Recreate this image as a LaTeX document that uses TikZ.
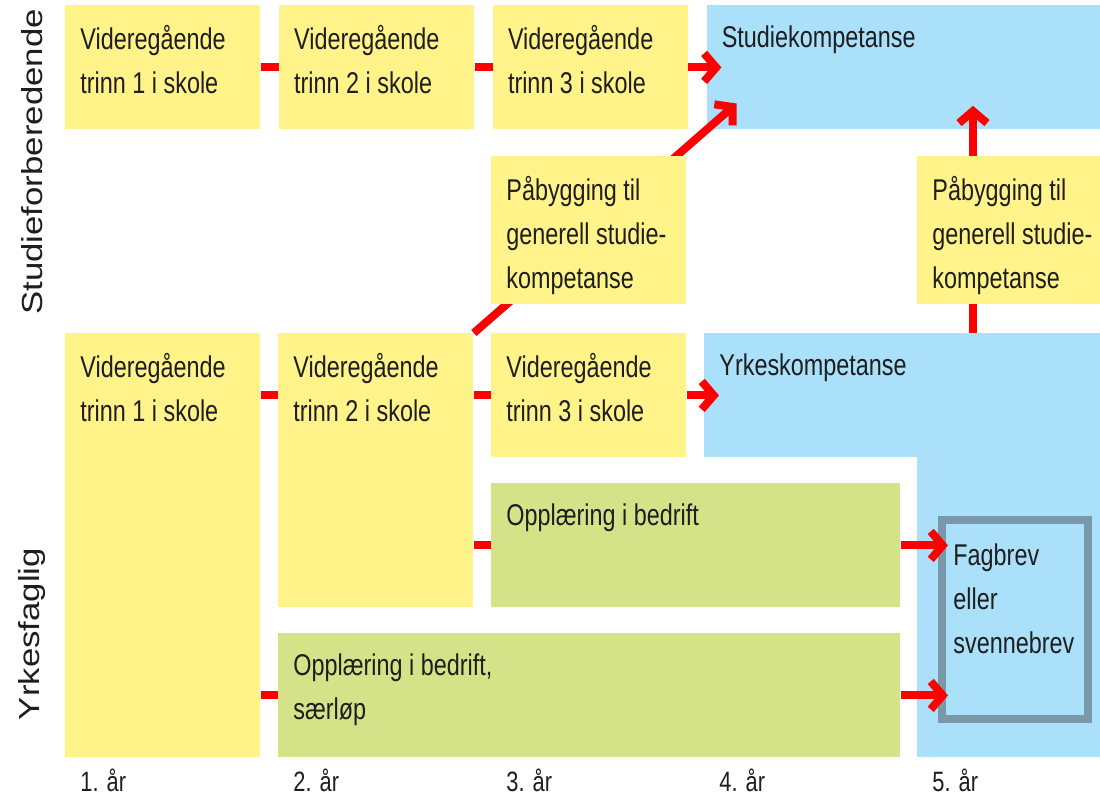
\documentclass[tikz,border=0pt]{standalone}
\usepackage{fontspec}
\setmainfont{Liberation Sans}
\newfontfamily\boxfont[FakeStretch=0.78]{Liberation Sans}
\newfontfamily\sidefont[FakeStretch=1.2]{Liberation Sans}
\usetikzlibrary{positioning,arrows.meta}
\definecolor{vgyellow}{RGB}{255,243,138}
\definecolor{opgreen}{RGB}{212,226,136}
\definecolor{kompblue}{RGB}{170,224,250}
\definecolor{fagframe}{RGB}{122,153,168}
\definecolor{txtgray}{RGB}{30,30,30}
\tikzset{
	every node/.style = {font=\boxfont\fontsize{15pt}{22pt}\selectfont, text=txtgray, inner sep=0},
	box/.style = {minimum width=97.5pt, minimum height=62pt, anchor=north west},
	vgbox/.style = {box, fill=vgyellow},
	opbox/.style = {box, fill=opgreen},
	kompbox/.style = {box, fill=kompblue},
	boxtext/.style = {anchor=north west, align=left, xshift=7.5pt, yshift=-10pt},
	sidetext/.style = {rotate=90, font=\sidefont\fontsize{14.5pt}{17pt}\selectfont},
	link/.style = {draw=red, line width=4pt},
	flow/.style = {link, -{Straight Barb[length=6pt, width=14pt]}},
	node distance=9pt
}
\begin{document}
\begin{tikzpicture}[x=0.5pt, y=-0.5pt]
		\useasboundingbox (0,0) rectangle (1100,800);

		% studieforberedende
		\node(vg1s)[vgbox, label={[boxtext]north west:{Videregående\\trinn 1 i skole}}] at (65,5) {};
		\node(vg2s)[vgbox, right=of vg1s, label={[boxtext]north west:{Videregående\\trinn 2 i skole}}] {};
		\node(vg3s)[vgbox, right=of vg2s, label={[boxtext]north west:{Videregående\\trinn 3 i skole}}] {};
		\node(stud)[kompbox, minimum width=198pt, right=of vg3s, label={[boxtext]north west:Studiekompetanse}] {};

		% yrkesfaglig
		\node(vg1y)[vgbox, minimum height=212pt, label={[boxtext]north west:{Videregående\\trinn 1 i skole}}] at (65,333) {};
		\node(vg2y)[vgbox, minimum height=137pt, label={[boxtext]north west:{Videregående\\trinn 2 i skole}}] at (278,333) {};
		\node(vg3y)[vgbox, label={[boxtext]north west:{Videregående\\trinn 3 i skole}}] at (491,333) {};
		\node(yrk)[kompbox, minimum width=198pt, label={[boxtext]north west:Yrkeskompetanse}] at (704,333) {};
		\node(yrklow)[kompbox, minimum width=91.5pt, minimum height=150pt] at (917,457) {};
		\node(opp)[opbox, minimum width=204.5pt, label={[boxtext]north west:Opplæring i bedrift}] at (491,483) {};
		\node(saer)[opbox, minimum width=311pt, label={[boxtext]north west:{Opplæring i bedrift,\\særløp}}] at (278,633) {};
		\node(fag)[draw=fagframe, line width=4pt, minimum width=73pt, minimum height=99.5pt, anchor=north west,
			label={[boxtext, yshift=-3.5pt]north west:{Fagbrev\\eller\\svennebrev}}] at (938,516) {};

		\draw[link] (vg1s.east) -- (vg2s.west);
		\draw[link] (vg2s.east) -- (vg3s.west);
		\draw[flow, shorten >=-7.5pt] (vg3s.east) -- (stud.west);
		\draw[link] (vg1y.east |- vg3y.west) -- (vg2y.west |- vg3y.west);
		\draw[link] (vg2y.east |- vg3y.west) -- (vg3y.west);
		\draw[flow, shorten >=-7.5pt] (vg3y.east) -- (yrk.west);
		\draw[link] (vg2y.east |- opp.west) -- (opp.west);
		\draw[link] (vg1y.east |- saer.west) -- (saer.west);
		\draw[flow, shorten >=-5pt] (opp.east) -- (opp.east -| fag.west);
		\draw[flow, shorten >=-5pt] (saer.east) -- (saer.east -| fag.west);
		\draw[flow, shorten >=-20pt] (vg2y.north east) -- (stud.south west);
		\coordinate(rise) at (973,333);
		\draw[flow, shorten >=-12pt] (rise) -- (rise |- stud.south);

		% paabygging
		\node(pab1)[vgbox, minimum height=74pt, label={[boxtext]north west:{Påbygging til\\generell studie-\\kompetanse}}] at (491,156) {};
		\node(pab2)[vgbox, minimum width=91.5pt, minimum height=74pt, label={[boxtext]north west:{Påbygging til\\generell studie-\\kompetanse}}] at (917,156) {};

		\node(sidestud)[sidetext] at (32,162) {Studieforberedende};
		\node(sideyrk)[sidetext] at (32,634) {Yrkesfaglig};
		\foreach \n in {1,...,5}
			\node(aar\n)[anchor=west, font=\boxfont\fontsize{14pt}{17pt}\selectfont] at ({80+213*(\n-1)},780) {\n. år};
\end{tikzpicture}
\end{document}
